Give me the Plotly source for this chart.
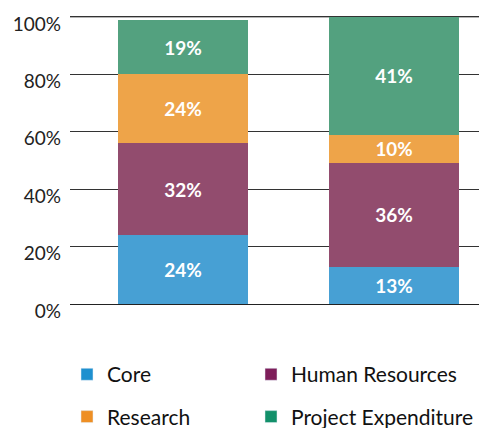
import plotly.graph_objects as go

categories = ["Bar 1", "Bar 2"]
series_names = ["Core", "Human Resources", "Research", "Project Expenditure"]
core = [24, 13]
human_resources = [32, 36]
research = [24, 10]
project_expenditure = [19, 41]
y_ticks = [0, 20, 40, 60, 80, 100]
y_tick_labels = ["0%", "20%", "40%", "60%", "80%", "100%"]

bar_colors = ["#47A0D4", "#924C6E", "#EEA449", "#53A17F"]
legend_colors = ["#1E90CF", "#7E1E5A", "#EE8F24", "#12906A"]
values = [core, human_resources, research, project_expenditure]

FONT = "Lato"
fig = go.Figure()
for name, vals, col in zip(series_names, values, bar_colors):
    fig.add_trace(go.Bar(
        x=categories, y=vals, name=name, marker=dict(color=col, line=dict(width=0)),
        text=[f"{v}%" for v in vals], textposition="inside", insidetextanchor="middle",
        textangle=0, textfont=dict(color="white", size=19, family=FONT, weight="bold"),
        width=0.616, showlegend=False, cliponaxis=False,
    ))

legend_ids = ["legend", "legend2", "legend3", "legend4"]
for name, col, lg in zip(series_names, legend_colors, legend_ids):
    fig.add_trace(go.Bar(x=[None], y=[None], name=name, marker=dict(color=col),
                         showlegend=True, legend=lg))

legend_common = dict(orientation="h", xanchor="left", yanchor="middle",
                     font=dict(family=FONT, size=21, color="#111"),
                     bgcolor="rgba(0,0,0,0)", itemclick=False)
col1_x = (67 - 70) / 409
col2_x = (251 - 70) / 409
row1_y = -(374 - 304) / 287.5
row2_y = -(416 - 304) / 287.5

# top gridline (plotly omits the one at the range edge)
fig.add_shape(type="line", xref="paper", x0=0, x1=1, yref="y", y0=y_ticks[-1], y1=y_ticks[-1],
              line=dict(color="#333", width=1), layer="below")

fig.update_layout(
    barmode="stack",
    width=483, height=428,
    margin=dict(l=70, r=4, t=14, b=124, autoexpand=False),
    paper_bgcolor="white", plot_bgcolor="white",
    font=dict(family=FONT, size=19, color="#222"),
    xaxis=dict(range=[-0.536, 1.403], showticklabels=False, showgrid=False,
               zeroline=False, showline=False, ticks="", automargin=False),
    yaxis=dict(range=[0, 101], tickvals=y_ticks, ticktext=y_tick_labels,
               showgrid=True, gridcolor="#333", gridwidth=1, zeroline=True,
               zerolinecolor="#222", zerolinewidth=1, showline=False, ticks="",
               ticklabelshift=7, ticklabelstandoff=8, automargin=False,
               ticklabeloverflow="allow",
               tickfont=dict(family=FONT, size=19, color="#222")),
    legend=dict(x=col1_x, y=row1_y, **legend_common),
    legend2=dict(x=col2_x, y=row1_y, **legend_common),
    legend3=dict(x=col1_x, y=row2_y, **legend_common),
    legend4=dict(x=col2_x, y=row2_y, **legend_common),
)
fig.write_html("out.html", config={"displayModeBar": False},
               post_script="document.body.style.margin='0';document.body.style.padding='0';")
